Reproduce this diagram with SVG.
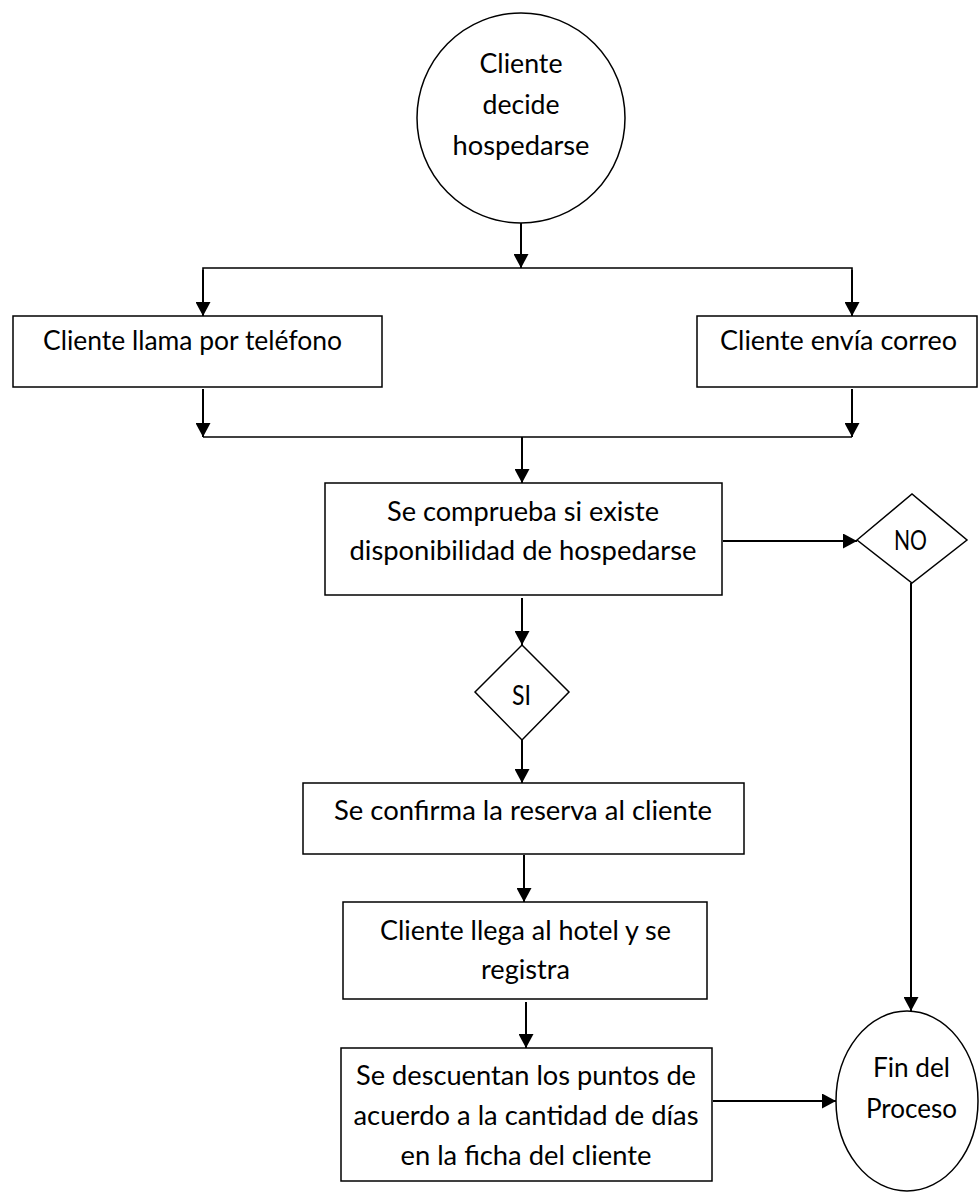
<svg xmlns="http://www.w3.org/2000/svg" width="979" height="1193" viewBox="0 0 979 1193">
  <style>
    .shape { fill: #ffffff; stroke: #000000; stroke-width: 1.5; }
    .link { fill: none; stroke: #000000; stroke-width: 2; }
    .bus { fill: none; stroke: #000000; stroke-width: 1.6; }
    .lbl { font-family: "Lato", "Liberation Sans", sans-serif; font-size: 26px; fill: #000000; text-anchor: middle; }
  </style>
  <defs>
    <marker id="arrow" viewBox="0 0 14 15" refX="14" refY="7.5" markerWidth="14" markerHeight="15" markerUnits="userSpaceOnUse" orient="auto">
      <path d="M0,0 L14,7.5 L0,15 z" fill="#000000"/>
    </marker>
  </defs>

  <rect width="979" height="1193" fill="#ffffff"/>

  <!-- connectors -->
  <g id="connectors">
    <line class="link" x1="521" y1="223" x2="521" y2="268" marker-end="url(#arrow)"/>
    <polyline class="bus" points="203,316 203,268 852,268 852,316"/>
    <line class="link" x1="203" y1="270" x2="203" y2="316" marker-end="url(#arrow)"/>
    <line class="link" x1="852" y1="270" x2="852" y2="316" marker-end="url(#arrow)"/>
    <line class="link" x1="203" y1="389" x2="203" y2="437" marker-end="url(#arrow)"/>
    <line class="link" x1="852" y1="389" x2="852" y2="437" marker-end="url(#arrow)"/>
    <line class="bus" x1="203" y1="437" x2="852" y2="437"/>
    <line class="link" x1="522" y1="437" x2="522" y2="483" marker-end="url(#arrow)"/>
    <line class="link" x1="522" y1="598" x2="522" y2="645" marker-end="url(#arrow)"/>
    <line class="link" x1="522" y1="740" x2="522" y2="783" marker-end="url(#arrow)"/>
    <line class="link" x1="524" y1="855" x2="524" y2="902" marker-end="url(#arrow)"/>
    <line class="link" x1="526" y1="1002" x2="526" y2="1048" marker-end="url(#arrow)"/>
    <line class="link" x1="723" y1="541" x2="857" y2="541" marker-end="url(#arrow)"/>
    <line class="link" x1="911" y1="583" x2="911" y2="1011" marker-end="url(#arrow)"/>
    <line class="link" x1="713" y1="1101" x2="836" y2="1101" marker-end="url(#arrow)"/>
  </g>

  <!-- start -->
  <g id="start">
    <ellipse class="shape" cx="521" cy="118" rx="104" ry="105"/>
    <text class="lbl" x="521" y="73" textLength="83" lengthAdjust="spacingAndGlyphs">Cliente</text>
    <text class="lbl" x="521" y="114" textLength="77" lengthAdjust="spacingAndGlyphs">decide</text>
    <text class="lbl" x="521" y="155" textLength="137" lengthAdjust="spacingAndGlyphs">hospedarse</text>
  </g>

  <g id="phone">
    <rect class="shape" x="13" y="316" width="369" height="71"/>
    <text class="lbl" x="192.5" y="350" textLength="299" lengthAdjust="spacingAndGlyphs">Cliente llama por teléfono</text>
  </g>

  <g id="email">
    <rect class="shape" x="697" y="316" width="280" height="71"/>
    <text class="lbl" x="838.5" y="350" textLength="237" lengthAdjust="spacingAndGlyphs">Cliente envía correo</text>
  </g>

  <g id="check">
    <rect class="shape" x="325" y="483" width="397" height="112"/>
    <text class="lbl" x="523" y="521" textLength="272" lengthAdjust="spacingAndGlyphs">Se comprueba si existe</text>
    <text class="lbl" x="523" y="560" textLength="347" lengthAdjust="spacingAndGlyphs">disponibilidad de hospedarse</text>
  </g>

  <g id="no">
    <polygon class="shape" points="857,540 912,494 967,540 912,583"/>
    <text class="lbl" x="910.5" y="550" textLength="33" lengthAdjust="spacingAndGlyphs">NO</text>
  </g>

  <g id="si">
    <polygon class="shape" points="475,692 522,645 569,692 522,740"/>
    <text class="lbl" x="521.5" y="705" textLength="19" lengthAdjust="spacingAndGlyphs">SI</text>
  </g>

  <g id="confirm">
    <rect class="shape" x="303" y="783" width="441" height="71"/>
    <text class="lbl" x="523" y="820" textLength="378" lengthAdjust="spacingAndGlyphs">Se confirma la reserva al cliente</text>
  </g>

  <g id="checkin">
    <rect class="shape" x="343" y="902" width="364" height="97"/>
    <text class="lbl" x="525.5" y="940" textLength="291" lengthAdjust="spacingAndGlyphs">Cliente llega al hotel y se</text>
    <text class="lbl" x="525.5" y="979" textLength="89" lengthAdjust="spacingAndGlyphs">registra</text>
  </g>

  <g id="points">
    <rect class="shape" x="341" y="1048" width="371" height="133"/>
    <text class="lbl" x="526" y="1085" textLength="340" lengthAdjust="spacingAndGlyphs">Se descuentan los puntos de</text>
    <text class="lbl" x="526" y="1125" textLength="345" lengthAdjust="spacingAndGlyphs">acuerdo a la cantidad de días</text>
    <text class="lbl" x="526" y="1165" textLength="251" lengthAdjust="spacingAndGlyphs">en la ficha del cliente</text>
  </g>

  <g id="end">
    <ellipse class="shape" cx="907" cy="1101" rx="71" ry="90"/>
    <text class="lbl" x="911.5" y="1077" textLength="77" lengthAdjust="spacingAndGlyphs">Fin del</text>
    <text class="lbl" x="911.5" y="1118" textLength="91" lengthAdjust="spacingAndGlyphs">Proceso</text>
  </g>
</svg>
